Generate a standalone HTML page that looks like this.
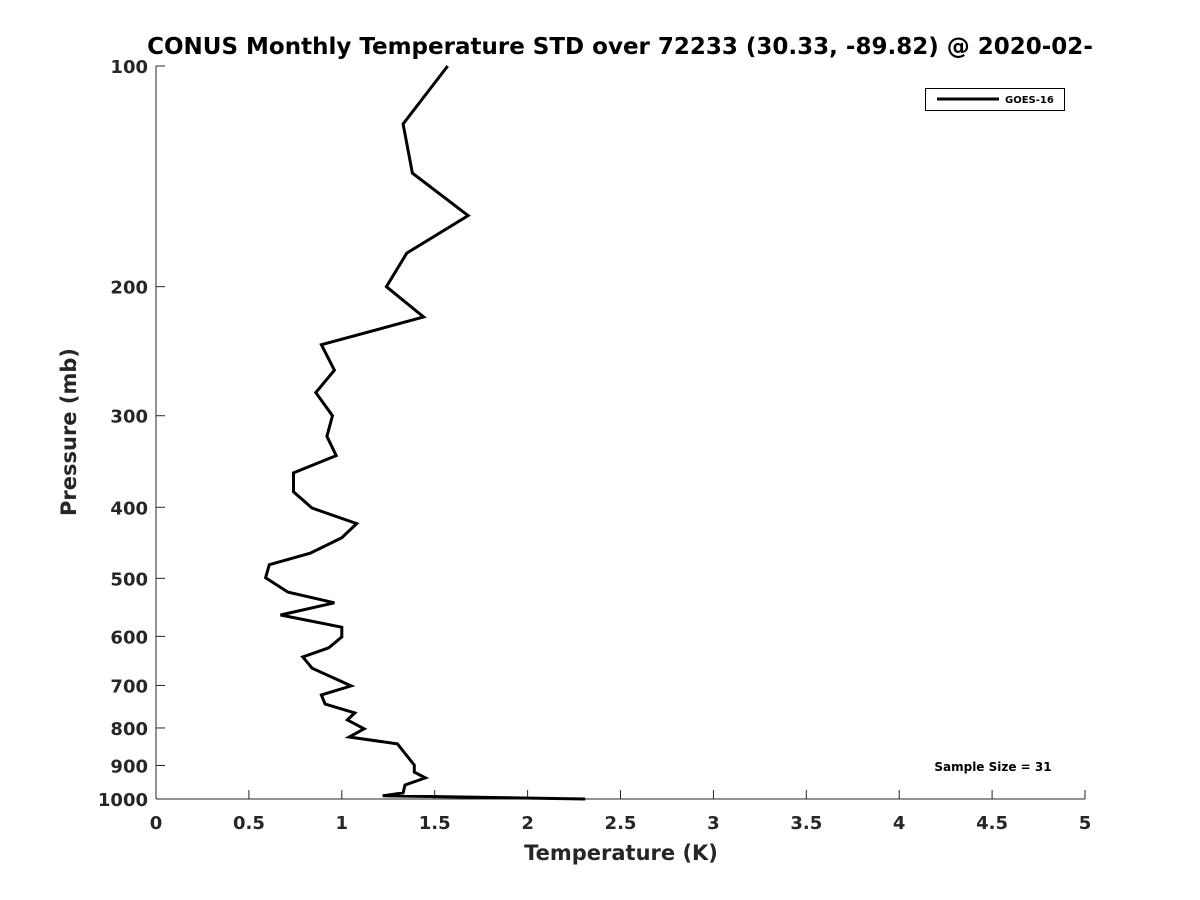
<!DOCTYPE html>
<html><head><meta charset="utf-8"><style>
html,body{margin:0;padding:0;background:#fff;}
svg{display:block;font-family:"DejaVu Sans","Liberation Sans",sans-serif;font-weight:bold;}
</style></head><body>
<svg id="chart" width="1200" height="900" viewBox="0 0 1200 900">
<text x="620" y="54" text-anchor="middle" font-size="23" fill="#000">CONUS Monthly Temperature STD over 72233 (30.33, -89.82) @ 2020-02-</text>
<g id="axes"></g>
<g id="series"></g>
<text x="621" y="860" text-anchor="middle" font-size="21" fill="#262626">Temperature (K)</text>
<text transform="translate(76,432) rotate(-90)" text-anchor="middle" font-size="21" fill="#262626">Pressure (mb)</text>
<g>
<rect x="925.5" y="88.5" width="139" height="22" fill="#fff" stroke="#000" stroke-width="1"/>
<line x1="937" y1="99" x2="999" y2="99" stroke="#000" stroke-width="3"/>
<text x="1005" y="103" font-size="10" fill="#000">GOES-16</text>
</g>
<text x="993" y="771" text-anchor="middle" font-size="12" fill="#000">Sample Size = 31</text>
</svg>
<script>
const temps = [1.57,1.33,1.38,1.68,1.35,1.24,1.44,0.89,0.96,0.86,0.95,0.92,0.97,0.74,0.74,0.84,1.08,1.00,0.83,0.61,0.59,0.71,0.96,0.67,1.00,1.00,0.93,0.79,0.84,1.05,0.89,0.91,1.07,1.03,1.12,1.04,1.30,1.33,1.39,1.39,1.45,1.34,1.33,1.22,2.31];
const pressures = [100,120,140,160,180,200,220,240,260,279,300,320,340,359,381,401,421,440,462,479,499,522,540,561,583,601,622,640,663,701,721,742,763,780,802,823,841,860,899,919,936,957,981,1000];
const xTicks = [0,0.5,1,1.5,2,2.5,3,3.5,4,4.5,5];
const xTickLabels = ["0","0.5","1","1.5","2","2.5","3","3.5","4","4.5","5"];
const yTicks = [100,200,300,400,500,600,700,800,900,1000];
const yTickLabels = ["100","200","300","400","500","600","700","800","900","1000"];
// one more pressure to match temps length
pressures.splice(pressures.length-1,0,990);

const X0=156,X1=1085,Y0=66,Y1=799;
function xs(t){return X0+(t-0)/(5-0)*(X1-X0);}
function ys(p){return Y0+(Math.log10(p)-2)/(1)*(Y1-Y0);}
const NS="http://www.w3.org/2000/svg";
const axes=document.getElementById('axes');
function mk(tag,attrs,parent){const e=document.createElementNS(NS,tag);for(const k in attrs)e.setAttribute(k,attrs[k]);parent.appendChild(e);return e;}
let a=mk('line',{x1:X0,y1:Y0,x2:X0,y2:Y1,stroke:'#262626','stroke-width':1},axes);


a=mk('line',{x1:X0,y1:Y1,x2:X1,y2:Y1,stroke:'#262626','stroke-width':1},axes);


xTicks.forEach((t,i)=>{
  const x=xs(t);
  const l=mk('line',{x1:x,y1:Y1,x2:x,y2:Y1-9,stroke:'#262626','stroke-width':1},axes);
  
  
  const tx=mk('text',{x:x,y:Y1+30,'text-anchor':'middle','font-size':18,fill:'#262626'},axes);
  tx.textContent=xTickLabels[i];
  
  
});
yTicks.forEach((p,i)=>{
  const y=ys(p);
  const l=mk('line',{x1:X0,y1:y,x2:X0+9,y2:y,stroke:'#262626','stroke-width':1},axes);
  
  
  const tx=mk('text',{x:X0-8,y:y+7,'text-anchor':'end','font-size':18,fill:'#262626'},axes);
  tx.textContent=yTickLabels[i];
  
  
});
const pts=temps.map((t,i)=>xs(t).toFixed(1)+','+ys(pressures[i]).toFixed(1)).join(' ');
const line=mk('polyline',{points:pts,fill:'none',stroke:'#000','stroke-width':3,'stroke-linejoin':'miter'},document.getElementById('series'));


</script>
</body></html>
